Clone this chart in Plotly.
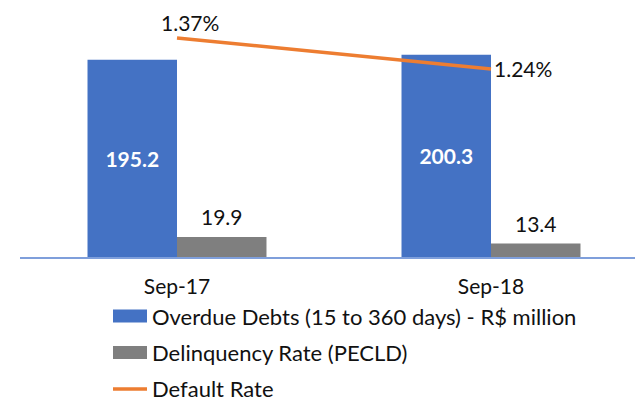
import plotly.graph_objects as go

categories = ["Sep-17", "Sep-18"]
overdue = [195.2, 200.3]
delinquency = [19.9, 13.4]
default_rate = [1.37, 1.24]
names = ["Overdue Debts (15 to 360 days) - R$ million", "Delinquency Rate (PECLD)", "Default Rate"]

BLUE = "#4472C4"
GRAY = "#7F7F7F"
ORANGE = "#ED7D31"
FONT = "Lato, 'Open Sans', sans-serif"
FS = 21
TXT = "#111111"

W, H = 635, 401
ML, MR, MT, MB = 20, 0, 10, 144
PW, PH = W - ML - MR, H - MT - MB


def px(x):
    return (x - ML) / PW


def py(y):
    return (H - MB - y) / PH


fig = go.Figure()
fig.add_trace(go.Bar(
    x=categories, y=overdue, name=names[0], marker=dict(color=BLUE, line=dict(width=0)),
    text=[f"{v:.1f}" for v in overdue], textposition="inside", insidetextanchor="middle",
    textfont=dict(color="white", size=FS, family=FONT, weight="bold"),
    showlegend=False, yaxis="y"))
fig.add_trace(go.Bar(
    x=categories, y=delinquency, name=names[1], marker=dict(color=GRAY, line=dict(width=0)),
    showlegend=False, yaxis="y"))
fig.add_trace(go.Scatter(
    x=categories, y=default_rate, name=names[2], mode="lines",
    line=dict(color=ORANGE, width=3.5), yaxis="y2", showlegend=False))

annotations = []
for c, v in zip(categories, delinquency):
    annotations.append(dict(x=c, y=v, xref="x", yref="y", text=f"{v:.1f}", showarrow=False,
                            xshift=45, yshift=20, yanchor="middle",
                            font=dict(size=FS, family=FONT, color=TXT)))
annotations.append(dict(x=categories[0], y=default_rate[0], xref="x", yref="y2",
                        text=f"{default_rate[0]:.2f}%", showarrow=False, xshift=13, yshift=15,
                        yanchor="middle", font=dict(size=FS, family=FONT, color=TXT)))
annotations.append(dict(x=categories[1], y=default_rate[1], xref="x", yref="y2",
                        text=f"{default_rate[1]:.2f}%", showarrow=False, xshift=1, yshift=0,
                        xanchor="left", yanchor="middle",
                        font=dict(size=FS, family=FONT, color=TXT)))

# legend drawn below the chart (swatch + label)
legend_rows = [316, 352.5, 388]
legend_colors = [BLUE, GRAY, ORANGE]
shapes = []
for i, (name, col, yc) in enumerate(zip(names, legend_colors, legend_rows)):
    if i < 2:
        shapes.append(dict(type="rect", xref="paper", yref="paper",
                           x0=px(113), x1=px(147), y0=py(yc + 6.5), y1=py(yc - 6.5),
                           fillcolor=col, line=dict(width=0)))
    else:
        shapes.append(dict(type="line", xref="paper", yref="paper",
                           x0=px(113), x1=px(147), y0=py(yc + 1), y1=py(yc + 1),
                           line=dict(color=col, width=3.5)))
    annotations.append(dict(x=px(150), y=py(yc), xref="paper", yref="paper", text=name,
                            showarrow=False, xanchor="left", yanchor="middle",
                            font=dict(size=22, family=FONT, color=TXT)))

fig.update_layout(
    width=W, height=H,
    margin=dict(l=ML, r=MR, t=MT, b=MB),
    paper_bgcolor="white", plot_bgcolor="white",
    barmode="group", bargap=0.43, bargroupgap=0,
    font=dict(family=FONT, size=FS, color=TXT),
    showlegend=False,
    xaxis=dict(range=[-0.5, 1.4586], showline=True, linecolor="#7F9FDB", linewidth=1.5,
               showgrid=False, ticks="", ticklabelstandoff=10, tickfont=dict(size=FS)),
    yaxis=dict(range=[0, 244.5], visible=False, showgrid=False),
    yaxis2=dict(range=[0.452, 1.487], overlaying="y", visible=False, showgrid=False),
    shapes=shapes,
    annotations=annotations,
)

fig.write_html("out.html", config={"displayModeBar": False},
               post_script="document.body.style.margin='0';document.body.style.overflow='hidden';")
